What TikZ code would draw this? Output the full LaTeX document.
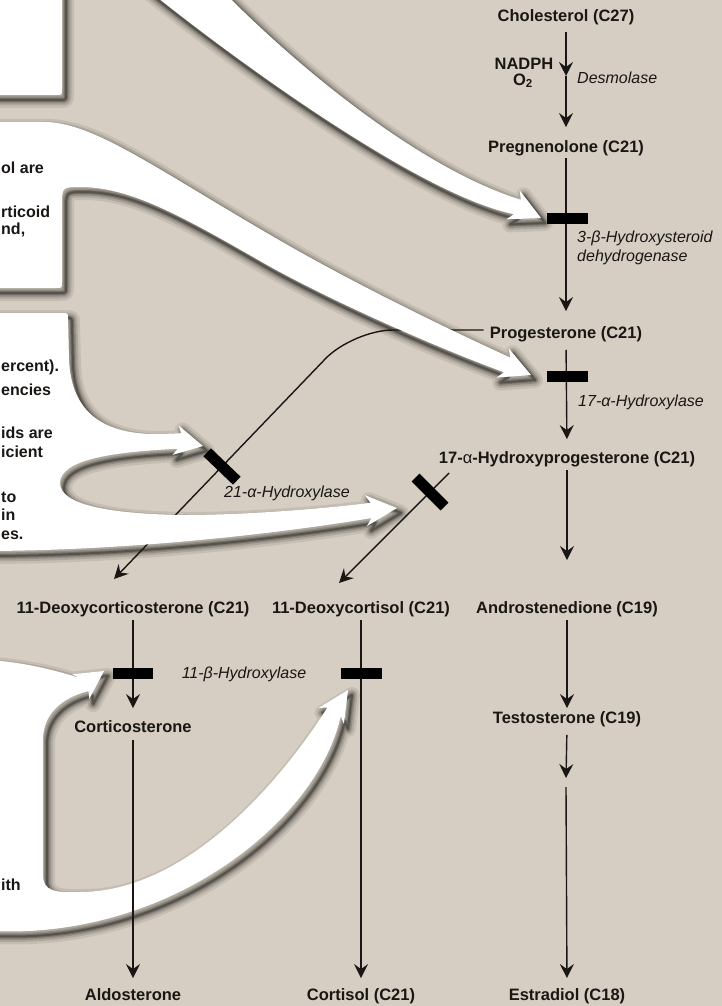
\documentclass[tikz,border=0pt]{standalone}
\usepackage{fontspec}
\setmainfont{Liberation Sans}
\usetikzlibrary{arrows.meta}
\definecolor{bg}{RGB}{214,206,194}
\definecolor{ink}{RGB}{25,22,20}
\begin{document}
\begin{tikzpicture}[x=1pt,y=-1pt,
  nm/.style={font=\fontsize{16.5}{19}\selectfont\bfseries, text=ink, inner sep=0pt, text height=12pt, text depth=3.5pt},
  enz/.style={font=\fontsize{16}{19}\selectfont\itshape, text=ink, inner sep=0pt},
  frag/.style={font=\fontsize{16}{19}\selectfont\bfseries, text=ink, inner sep=0pt, anchor=west},
  conn/.style={draw=ink, line width=1.4pt},
  arr/.style={conn, -{Stealth[length=14pt,width=14pt,inset=5pt]}},
  blockbar/.style={draw=black, line width=11pt},
  shade/.style={draw=black, line join=round, shift={(4,5)}},
  callout/.style={fill=white}
]
\useasboundingbox (0,0) rectangle (722,1006);
\clip (0,0) rectangle (722,1006);
\fill[bg] (0,0) rectangle (722,1006);

% callout outlines
\def\pA{(-40,-40) -- (62,-40) -- (62,89) .. controls (62,95) .. (56,95) -- (-40,95) -- cycle}
\def\pB{(111,-40) -- (183,-40) -- (222,-10) .. controls (280,50) and (410,165) .. (520.8,199.8) -- (519.7,190.4) -- (541,218) -- (506.1,219.4) -- (514,214.2) .. controls (420,195) and (235,60) .. (148,-10) -- cycle}
\def\pC{(-40,122) -- (40,122) .. controls (90,120) and (150,165) .. (267,233) .. controls (350,282) and (450,330) .. (510.2,357.5) -- (508.7,348.2) -- (531,375) -- (496.3,377.6) -- (504,372.3) .. controls (430,345) and (330,300) .. (267,265) .. controls (180,215) and (130,187) .. (80,187) .. controls (62,187) .. (62,205) -- (62,282) .. controls (62,288) .. (56,288) -- (-40,288) -- cycle}
\def\pD{(-40,313) -- (62,313) .. controls (68,313) .. (68,319) -- (69,360) .. controls (71,405) and (95,432) .. (150,434) .. controls (165,434) and (175,433.5) .. (181.2,433.2) -- (178.7,425.5) -- (203,446) -- (172.5,454.9) -- (177.8,448.8) .. controls (110,452) and (60,460) .. (60,483) .. controls (60,505) and (110,514) .. (184,515) .. controls (250,515) and (330,508) .. (370.5,502.8) -- (365,495.2) -- (397,508) -- (367,526) -- (371.5,518) .. controls (300,530) and (150,550) .. (-10,551) -- (-40,551) -- cycle}
\def\pE{(-40,660) -- (-10,660) .. controls (30,663) and (60,672) .. (79.6,677.8) -- (72.4,674.2) -- (104,671) -- (89.2,699) -- (88.6,691) .. controls (60,698) and (43,715) .. (43,740) -- (43,875) .. controls (43,891) and (55,893) .. (80,892) .. controls (200,892) and (300,752) .. (327.3,707.5) -- (318.7,707.9) -- (348,690) -- (343.9,724.1) -- (340.7,716.1) .. controls (318,820) and (170,940) .. (-10,931) -- (-40,931) -- cycle}

% shadows
\foreach \w/\o in {16/0.08,11/0.12,7/0.16,4/0.2,2/0.25}{
  \draw[shade, line width=\w pt, opacity=\o] \pA;
  \draw[shade, line width=\w pt, opacity=\o] \pB;
  \draw[shade, line width=\w pt, opacity=\o] \pC;
  \draw[shade, line width=\w pt, opacity=\o] \pD;
  \draw[shade, line width=\w pt, opacity=\o] \pE;
}

% compound nodes
\node[nm] (chol) at (566,17) {Cholesterol (C27)};
\node[nm] (preg) at (566,148) {Pregnenolone (C21)};
\node[nm] (prog) at (566,334) {Progesterone (C21)};
\node[nm] (ohp) at (567,459) {17-{\mdseries α}-Hydroxyprogesterone (C21)};
\node[nm] (andro) at (567,609) {Androstenedione (C19)};
\node[nm] (testo) at (567,719) {Testosterone (C19)};
\node[nm] (estra) at (567,996) {Estradiol (C18)};
\node[nm] (doc) at (133,609) {11-Deoxycorticosterone (C21)};
\node[nm] (cortico) at (133,728) {Corticosterone};
\node[nm] (aldo) at (133,996) {Aldosterone};
\node[nm] (dcl) at (361,609) {11-Deoxycortisol (C21)};
\node[nm] (cortisol) at (361,996) {Cortisol (C21)};
\node[nm] (nadph) at (524,65) {NADPH};
\node[nm] (o2) at (523,81) {O\textsubscript{2}};

% free ends
\coordinate (desm) at (566,76);
\coordinate (gapA) at (566,778);
\coordinate (gapB) at (566,787);
\coordinate (bend) at (353,330);
\coordinate (docin) at (114,579);
\coordinate (ohpout) at (449,473);
\coordinate (dclin) at (339,583);

% connectors (under the callouts)
\draw[arr, shorten <=7pt] (chol.south) -- (desm);
\draw[arr, shorten >=13pt] (desm) -- (preg.north);
\draw[arr, shorten <=2pt, shorten >=15pt] (preg.south) -- (prog.north);
\draw[arr, shorten <=8pt, shorten >=12pt] (prog.south) -- (ohp.north);
\draw[arr, shorten <=3pt, shorten >=41pt] (ohp.south) -- (andro.north);
\draw[arr, shorten <=3pt, shorten >=3pt] (andro.south) -- (testo.north);
\draw[arr, shorten <=8pt] (testo.south) -- (gapA);
\draw[arr, shorten >=10pt] (gapB) -- (estra.north);
\draw[arr, shorten <=3pt, shorten >=12pt] (doc.south) -- (cortico.north);
\draw[arr, shorten <=3pt, shorten >=10pt] (dcl.south) -- (cortisol.north);
\draw[arr, rounded corners=40pt, shorten <=6pt] ([yshift=4pt]prog.west) -- (bend) -- (docin);
\draw[arr] (ohpout) -- (dclin);

% white callouts
\fill[callout] \pA;
\fill[callout] \pB;
\fill[callout] \pC;
\fill[callout] \pD;
\fill[callout] \pE;

% connector drawn over the big callout arrow
\draw[arr, shorten <=4pt, shorten >=10pt] (cortico.south) -- (aldo.north);

% enzyme blocks
\draw[blockbar] (546.5,218) -- (587.5,218);
\draw[blockbar] (546.5,376) -- (587.5,376);
\draw[blockbar] (207.2,452.3) -- (236.8,480.7);
\draw[blockbar] (415.5,477.5) -- (444.5,506.5);
\draw[blockbar] (113,673) -- (153,673);
\draw[blockbar] (340.5,673) -- (381.5,673);

% enzyme labels
\node[enz, anchor=west] (desmol) at (577,78) {Desmolase};
\node[enz, anchor=west, align=left] (hsd) at (577,248) {3-β-Hydroxysteroid\\dehydrogenase};
\node[enz, anchor=west] (h17) at (578,402) {17-α-Hydroxylase};
\node[enz] (h21) at (287,493) {21-α-Hydroxylase};
\node[enz] (h11) at (244,674) {11-β-Hydroxylase};

% text fragments in callouts
\node[frag] (f1) at (1,168) {ol are};
\node[frag] (f2) at (1,212) {rticoid};
\node[frag] (f3) at (1,230) {nd,};
\node[frag] (f4) at (1,367) {ercent).};
\node[frag] (f5) at (1,390) {encies};
\node[frag] (f6) at (1,433) {ids are};
\node[frag] (f7) at (1,452) {icient};
\node[frag] (f8) at (1,497) {to};
\node[frag] (f9) at (1,515) {in};
\node[frag] (f10) at (1,535) {es.};
\node[frag] (f11) at (1,885) {ith};
\end{tikzpicture}
\end{document}
